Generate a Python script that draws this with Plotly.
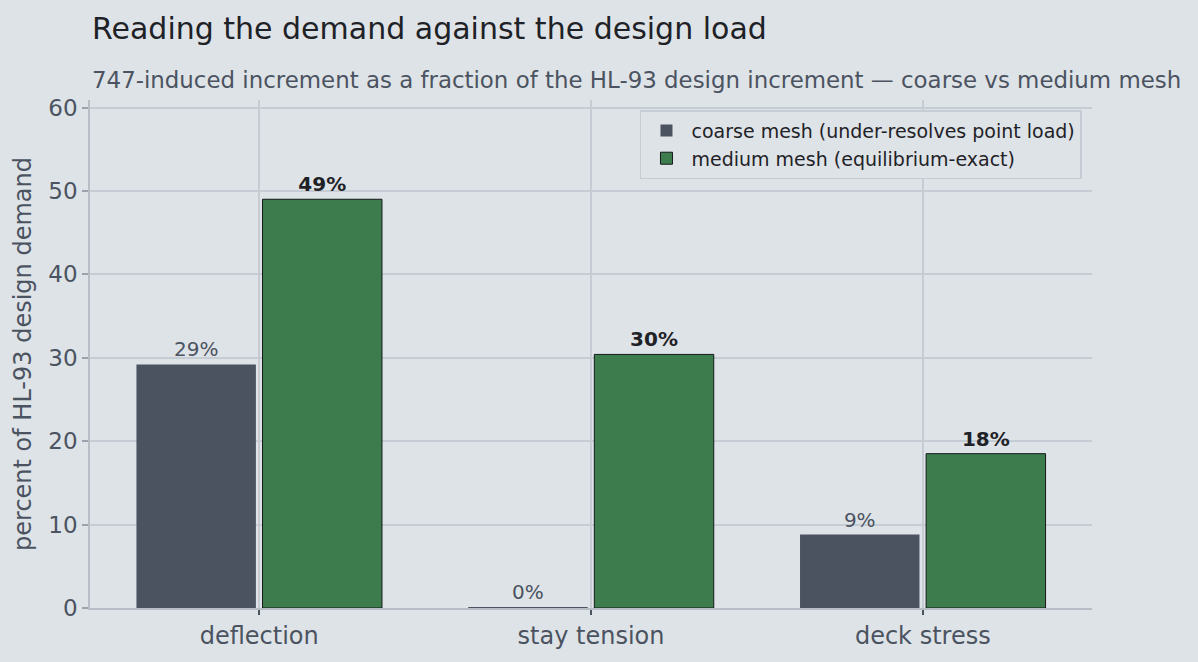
import plotly.graph_objects as go

# values (percent of HL-93 design demand)
metrics = ['deflection', 'stay tension', 'deck stress']
coarse_pct = [29.2, 0.1, 8.8]
medium_pct = [49.0, 30.4, 18.5]
coarse_labels = ['29%', '0%', '9%']
medium_labels = ['49%', '30%', '18%']
y_ticks = [0, 10, 20, 30, 40, 50, 60]

bg = '#dee3e7'
grid = '#c5ccd3'
muted = '#4b5361'
dark = '#1e2227'
font = 'DejaVu Sans'

fig = go.Figure()

fig.add_trace(go.Bar(
    x=metrics, y=coarse_pct,
    name='coarse mesh (under-resolves point load)',
    width=0.36, offset=-0.37,
    marker=dict(color='#4b5260', line=dict(width=0)),
    text=coarse_labels, textposition='outside',
    textfont=dict(family=font, size=20, color=muted),
    cliponaxis=False,
))
fig.add_trace(go.Bar(
    x=metrics, y=medium_pct,
    name='medium mesh (equilibrium-exact)',
    width=0.36, offset=0.01,
    marker=dict(color='#3d7d4d', line=dict(width=1, color='#15181b')),
    text=['<b>%s</b>' % t for t in medium_labels], textposition='outside',
    textfont=dict(family=font, size=20, color=dark),
    cliponaxis=False,
))

fig.update_layout(
    width=1198, height=662,
    paper_bgcolor=bg, plot_bgcolor=bg,
    margin=dict(l=90, r=106, t=100, b=54),
    font=dict(family=font, color=muted),
    barmode='group',
    showlegend=True,
    legend=dict(
        x=0.99, y=0.98, xanchor='right', yanchor='top',
        bgcolor=bg, bordercolor=grid, borderwidth=1.5,
        font=dict(family=font, size=19, color=dark),
        itemwidth=40, tracegroupgap=2,
    ),
    annotations=[
        dict(text='Reading the demand against the design load',
             xref='paper', yref='paper', x=0, y=1, xanchor='left', yanchor='middle',
             xshift=0, yshift=72, showarrow=False,
             font=dict(family=font, size=30, color=dark)),
        dict(text='747-induced increment as a fraction of the HL-93 design increment \u2014 coarse vs medium mesh',
             xref='paper', yref='paper', x=0, y=1, xanchor='left', yanchor='middle',
             xshift=0, yshift=20, showarrow=False,
             font=dict(family=font, size=22.9, color=muted)),
    ],
)

fig.update_xaxes(
    type='category', range=[-0.51, 2.51],
    showgrid=True, gridcolor=grid, gridwidth=1.5,
    showline=True, linecolor='#b7bec6', linewidth=1.5,
    ticks='outside', ticklen=5, tickcolor=muted, tickwidth=1.5,
    tickfont=dict(family=font, size=24, color=muted),
)
fig.update_yaxes(
    range=[0, 60.9], tickvals=y_ticks,
    showgrid=True, gridcolor=grid, gridwidth=1.5, zeroline=False,
    showline=True, linecolor='#b7bec6', linewidth=1.5,
    ticks='outside', ticklen=6, tickcolor='#9aa2ab', tickwidth=1.5,
    tickfont=dict(family=font, size=23, color=muted),
    title=dict(text='percent of HL-93 design demand', standoff=10,
               font=dict(family=font, size=24, color=muted)),
)

# drop the default page margin so the figure sits flush in the window
fig.write_html('out.html', config={'displayModeBar': False},
               post_script="document.body.style.margin='0';")
